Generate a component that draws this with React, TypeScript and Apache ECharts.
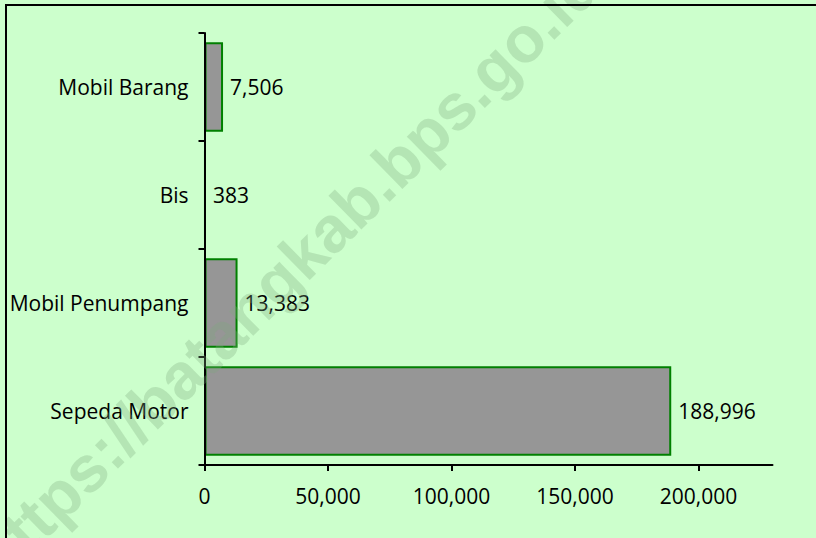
import React, { useEffect, useRef } from "react";
import * as echarts from "echarts";

const categories = ["Sepeda Motor", "Mobil Penumpang", "Bis", "Mobil Barang"];
const values = [188996, 13383, 383, 7506];
const xTicks = [0, 50000, 100000, 150000, 200000];
const watermarkText = "https://batangkab.bps.go.id";

const FONT = '"Open Sans", sans-serif';

function fmt(n: number): string {
  const s = String(Math.round(n));
  return s.replace(/\B(?=(\d{3})+(?!\d))/g, ",");
}

export default function App() {
  const ref = useRef<HTMLDivElement>(null);
  useEffect(() => {
    if (!ref.current) return;
    const chart = echarts.init(ref.current, null, { renderer: "svg" });
    chart.setOption({
      animation: false,
      backgroundColor: "#CCFFCC",
      grid: { left: 204.5, right: 43.5, top: 33, bottom: 73, containLabel: false },
      xAxis: {
        type: "value",
        min: 0,
        max: 230000,
        interval: 50000,
        z: 3,
        axisLine: { show: true, lineStyle: { color: "#000", width: 2 } },
        axisTick: { show: true, length: 6, customValues: xTicks, lineStyle: { color: "#000", width: 2 } },
        axisLabel: {
          customValues: xTicks,
          formatter: (v: number) => fmt(v),
          fontSize: 21,
          fontFamily: FONT,
          color: "#000",
          margin: 20,
        },
        splitLine: { show: false },
      },
      yAxis: {
        type: "category",
        data: categories,
        z: 3,
        axisLine: { show: true, lineStyle: { color: "#000", width: 2 } },
        axisTick: { show: true, length: 6, lineStyle: { color: "#000", width: 2 } },
        axisLabel: { fontSize: 21, fontFamily: FONT, color: "#000", margin: 16 },
      },
      series: [
        {
          type: "bar",
          data: values,
          barCategoryGap: "17%",
          itemStyle: { color: "#969696", borderColor: "#008000", borderWidth: 2 },
          label: {
            show: true,
            position: "right",
            distance: 7,
            formatter: (p: any) => fmt(p.value),
            fontSize: 21,
            fontFamily: FONT,
            color: "#000",
          },
        },
      ],
      graphic: [
        {
          type: "rect",
          z: 200,
          silent: true,
          shape: { x: 6, y: 5, width: 900, height: 900 },
          style: { fill: "none", stroke: "#000", lineWidth: 2 },
        },
        {
          type: "text",
          z: 150,
          silent: true,
          x: 287,
          y: 271,
          rotation: (44.5 * Math.PI) / 180,
          style: {
            text: watermarkText,
            fontSize: 65,
            fontWeight: "bold",
            fontFamily: '"Liberation Sans", Arial, sans-serif',
            fill: "rgba(127,168,127,0.3)",
            align: "center",
            verticalAlign: "middle",
          },
        },
      ],
    });
    return () => chart.dispose();
  }, []);
  return (
    <div
      ref={ref}
      style={{ position: "fixed", left: 0, top: 0, width: 816, height: 538 }}
    />
  );
}
